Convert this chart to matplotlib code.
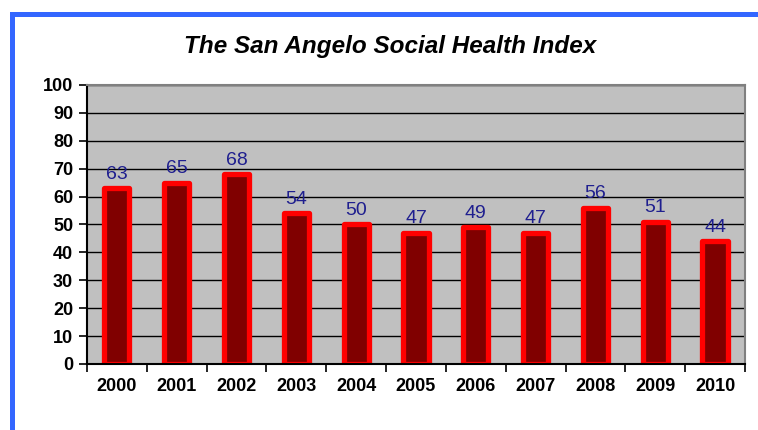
import matplotlib.pyplot as plt
from matplotlib.lines import Line2D

years = ['2000', '2001', '2002', '2003', '2004', '2005',
         '2006', '2007', '2008', '2009', '2010']
scores = [63, 65, 68, 54, 50, 47, 49, 47, 56, 51, 44]
yticks = list(range(0, 101, 10))

plt.rcParams['font.family'] = ['Liberation Sans', 'DejaVu Sans']

fig = plt.figure(figsize=(7.58, 4.30), dpi=100)
ax = fig.add_axes([0.1148, 0.1535, 0.868, 0.649])

# blue frame round the chart (only top and left edges visible)
fig.add_artist(Line2D([0.0152, 0.0152], [0.0, 0.9686], transform=fig.transFigure,
                      color='#3366ff', lw=3.6, solid_capstyle='projecting'))
fig.add_artist(Line2D([0.0152, 1.0], [0.9686, 0.9686], transform=fig.transFigure,
                      color='#3366ff', lw=3.6, solid_capstyle='projecting'))

x = list(range(len(years)))
ax.set_facecolor('#c0c0c0')
ax.set_axisbelow(True)
ax.yaxis.grid(True, color='black', lw=1.0)
ax.bar(x, scores, width=0.42, color='#800000', edgecolor='#ff0000',
       linewidth=3.8, joinstyle='round')

for xi, v in zip(x, scores):
    ax.annotate(str(v), (xi, v), xytext=(0, 4), textcoords='offset points',
                ha='center', va='bottom', color='#1f1f8f', fontsize=14)

ax.set_xlim(-0.5, len(years) - 0.5)
ax.set_ylim(0, 100)
ax.set_yticks(yticks)
ax.set_yticklabels([str(t) for t in yticks], fontsize=13, fontweight='bold')
ax.set_xticks(x)
ax.set_xticklabels(years, fontsize=13, fontweight='bold')
ax.tick_params(axis='x', length=0, pad=10)
ax.set_xticks([i - 0.5 for i in range(len(years) + 1)], minor=True)
ax.tick_params(axis='x', which='minor', length=6, width=1.2, color='black')
ax.tick_params(axis='y', length=6, width=1.2, color='black', pad=4)

for side in ['top', 'right']:
    ax.spines[side].set_color('#808080')
    ax.spines[side].set_linewidth(1.5)
for side in ['left', 'bottom']:
    ax.spines[side].set_color('black')
    ax.spines[side].set_linewidth(1.5)

fig.text(0.515, 0.893, 'The San Angelo Social Health Index', ha='center',
         va='center', fontsize=17.5, fontweight='bold', fontstyle='italic')

fig.savefig('out.png', dpi=100)
